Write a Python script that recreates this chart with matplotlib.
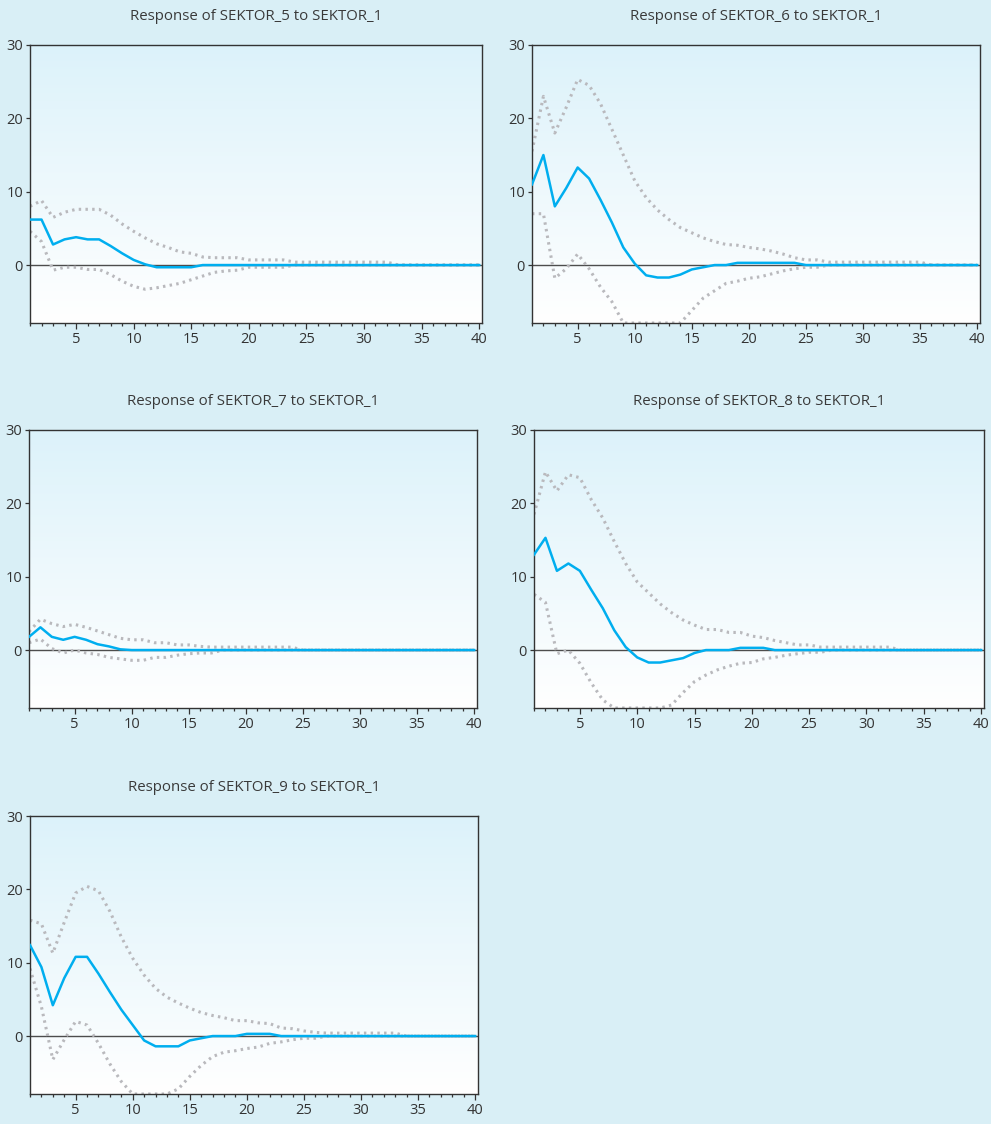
import matplotlib.pyplot as plt
import numpy as np
from matplotlib.colors import LinearSegmentedColormap
from matplotlib.ticker import MultipleLocator

plt.rcParams['font.family'] = ['Open Sans', 'DejaVu Sans']

horizon = np.arange(1, 41)

def pad(vals):
    # values after the listed ones are zero
    return list(vals) + [0.0] * (40 - len(vals))

titles = ["Response of SEKTOR_5 to SEKTOR_1",
          "Response of SEKTOR_6 to SEKTOR_1",
          "Response of SEKTOR_7 to SEKTOR_1",
          "Response of SEKTOR_8 to SEKTOR_1",
          "Response of SEKTOR_9 to SEKTOR_1"]

# SEKTOR_5
resp_5 = pad([6.2, 6.2, 2.8, 3.5, 3.8, 3.5, 3.5, 2.6, 1.6, 0.7, 0.1, -0.3, -0.3, -0.3, -0.3])
upper_5 = pad([8.0, 8.8, 6.5, 7.2, 7.6, 7.6, 7.6, 6.8, 5.6, 4.6, 3.7, 2.9, 2.4, 1.8, 1.6, 1.1,
               1.0, 1.0, 1.0, 0.7, 0.7, 0.7, 0.7, 0.4, 0.4, 0.4, 0.4, 0.4, 0.4, 0.4, 0.4, 0.4])
lower_5 = pad([4.6, 3.2, -0.7, -0.3, -0.3, -0.6, -0.6, -1.3, -2.2, -2.9, -3.3, -3.1, -2.8, -2.5,
               -2.0, -1.5, -1.0, -0.8, -0.7, -0.3, -0.3, -0.3, -0.3])

# SEKTOR_6
resp_6 = pad([11.0, 15.0, 8.0, 10.5, 13.3, 11.8, 8.9, 5.8, 2.4, 0.2, -1.4, -1.7, -1.7, -1.3,
              -0.6, -0.3, 0.0, 0.0, 0.3, 0.3, 0.3, 0.3, 0.3, 0.3])
upper_6 = pad([15.5, 23.0, 18.0, 21.5, 25.3, 24.5, 22.0, 18.5, 15.0, 11.5, 9.2, 7.5, 6.2, 5.1,
               4.4, 3.7, 3.2, 2.8, 2.7, 2.4, 2.2, 1.9, 1.5, 1.0, 0.7, 0.7, 0.4, 0.4, 0.4, 0.4,
               0.4, 0.4, 0.4, 0.4, 0.4])
lower_6 = pad([7.0, 7.0, -1.8, -0.5, 1.5, -0.5, -3.0, -5.0, -7.9, -7.9, -7.9, -7.9, -7.9, -7.9,
               -6.2, -4.5, -3.5, -2.5, -2.2, -1.8, -1.6, -1.2, -0.8, -0.5, -0.3, -0.3])

# SEKTOR_7
resp_7 = pad([1.8, 3.1, 1.8, 1.4, 1.8, 1.4, 0.8, 0.5, 0.1])
upper_7 = pad([2.5, 4.2, 3.6, 3.2, 3.5, 3.1, 2.6, 2.1, 1.6, 1.4, 1.4, 1.0, 1.0, 0.7, 0.7, 0.5,
               0.4, 0.4, 0.4, 0.4, 0.4, 0.4, 0.4, 0.4])
lower_7 = pad([1.0, 1.5, 0.2, -0.4, 0.0, -0.4, -0.6, -1.0, -1.2, -1.4, -1.4, -1.0, -1.0, -0.7,
               -0.5, -0.4, -0.4])

# SEKTOR_8
resp_8 = pad([13.0, 15.3, 10.8, 11.8, 10.8, 8.2, 5.7, 2.7, 0.4, -1.0, -1.7, -1.7, -1.4, -1.1,
              -0.4, 0.0, 0.0, 0.0, 0.3, 0.3, 0.3])
upper_8 = pad([18.5, 24.3, 21.7, 23.9, 23.5, 20.5, 18.0, 14.8, 11.8, 9.3, 7.8, 6.3, 5.1, 4.1,
               3.4, 2.8, 2.8, 2.4, 2.4, 1.9, 1.7, 1.3, 1.0, 0.7, 0.7, 0.4, 0.4, 0.4, 0.4, 0.4,
               0.4, 0.4])
lower_8 = pad([7.6, 6.5, -0.5, 0.0, -1.8, -4.5, -6.8, -7.9, -7.9, -7.9, -7.9, -7.9, -7.5, -5.8,
               -4.3, -3.4, -2.7, -2.2, -1.8, -1.7, -1.2, -1.0, -0.7, -0.5, -0.3, -0.3])

# SEKTOR_9
resp_9 = pad([12.4, 9.4, 4.2, 7.9, 10.8, 10.8, 8.5, 6.0, 3.6, 1.5, -0.6, -1.4, -1.4, -1.4,
              -0.6, -0.3, 0.0, 0.0, 0.0, 0.3, 0.3, 0.3])
upper_9 = pad([15.8, 15.3, 11.3, 15.5, 19.5, 20.4, 19.8, 17.0, 13.5, 10.6, 8.3, 6.5, 5.3, 4.5,
               3.8, 3.2, 2.8, 2.5, 2.1, 2.1, 1.8, 1.7, 1.1, 1.0, 0.7, 0.5, 0.4, 0.4, 0.4, 0.4,
               0.4, 0.4, 0.4])
lower_9 = pad([9.2, 4.0, -3.2, -0.5, 2.0, 1.5, -1.0, -3.8, -6.2, -7.9, -7.9, -7.9, -7.9, -7.2,
               -5.5, -4.0, -2.8, -2.2, -2.0, -1.7, -1.5, -1.0, -0.8, -0.5, -0.3, -0.3])

responses = [resp_5, resp_6, resp_7, resp_8, resp_9]
uppers = [upper_5, upper_6, upper_7, upper_8, upper_9]
lowers = [lower_5, lower_6, lower_7, lower_8, lower_9]

# axes boxes in pixels: left, top, right, bottom
boxes = [(30, 45, 482, 323), (532, 45, 980, 323),
         (29, 430, 477, 708), (534, 430, 984, 708),
         (30, 816, 478, 1094)]

W, H = 991, 1124
bg = '#d9eff6'
blue = '#00aeef'
grey = '#b9b9bd'
grad = LinearSegmentedColormap.from_list('grad', ['#ffffff', '#dcf2fa'])

fig = plt.figure(figsize=(W / 100, H / 100), dpi=100, facecolor=bg)

for i in range(5):
    l, t, r, b = boxes[i]
    ax = fig.add_axes([l / W, 1 - b / H, (r - l) / W, (b - t) / H])
    ax.imshow(np.linspace(0, 1, 256).reshape(-1, 1), extent=[0, 1, 0, 1], origin='lower',
              transform=ax.transAxes, cmap=grad, aspect='auto', zorder=0)
    ax.axhline(0, color='#4d4d4d', lw=1.0, zorder=1)
    ax.plot(horizon, uppers[i], color=grey, lw=2.2, ls=(0, (0.8, 1.4)), zorder=2)
    ax.plot(horizon, lowers[i], color=grey, lw=2.2, ls=(0, (0.8, 1.4)), zorder=2)
    ax.plot(horizon, responses[i], color=blue, lw=1.8, zorder=3)
    ax.set_xlim(1, 40.25)
    ax.set_ylim(-7.9, 30)
    ax.set_xticks([5, 10, 15, 20, 25, 30, 35, 40])
    ax.xaxis.set_minor_locator(MultipleLocator(1))
    ax.set_yticks([0, 10, 20, 30])
    ax.tick_params(axis='both', which='major', length=4.3, width=0.9, color='#333333',
                   labelsize=10.5, labelcolor='#333333', pad=2)
    ax.tick_params(axis='y', which='major', length=3.0)
    ax.tick_params(axis='x', which='minor', length=2.4, width=0.9, color='#333333')
    ax.tick_params(top=False, right=False)
    for s in ax.spines.values():
        s.set_color('#333333')
        s.set_linewidth(1.0)
    ax.set_title(titles[i], fontsize=10.8, color='#3a3a3a', pad=18)

plt.savefig('out.png', dpi=100, facecolor=bg)
